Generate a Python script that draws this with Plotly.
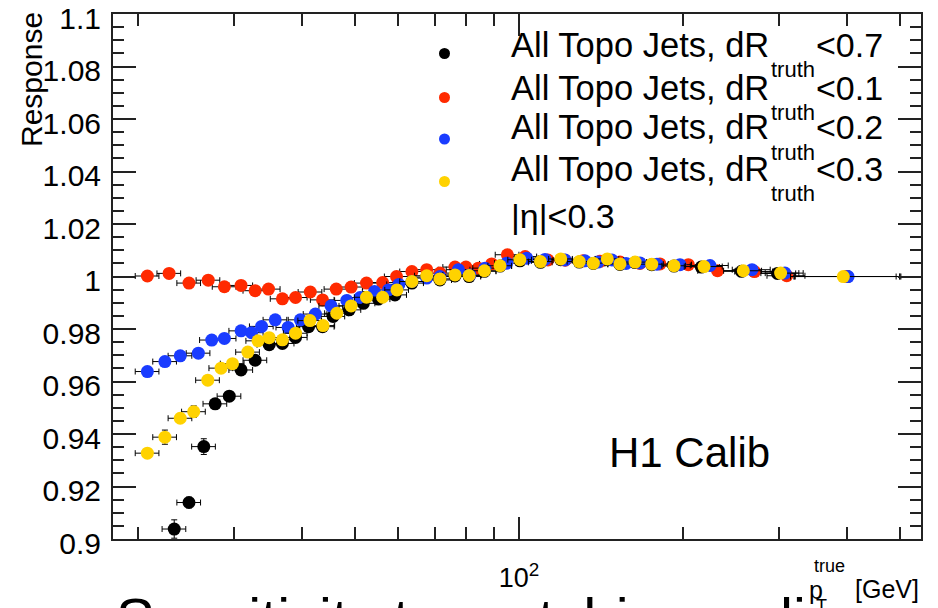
import plotly.graph_objects as go

# ---------------- data ----------------
black_x = [23.3, 24.8, 26.4, 27.7, 29.4, 30.9, 32.8, 34.8, 36.8, 38.9, 41.1, 43.6, 45.6, 48.8, 51.8,
           55.2, 59.2, 63.6, 67.7, 71.6, 76.3, 81.0, 86.4, 92.3, 100.4, 109.5, 119.3, 129.0, 136.9,
           145.2, 153.2, 163.3, 175.2, 192.5, 216, 256, 298, 400]
black_y = [0.9038, 0.9139, 0.9352, 0.9515, 0.9544, 0.9644, 0.9681, 0.9740, 0.9745, 0.9768, 0.9809,
           0.9809, 0.9848, 0.9873, 0.9898, 0.9914, 0.9930, 0.9975, 0.9998, 0.9987, 1.0002, 1.0000,
           1.0020, 1.0040, 1.0060, 1.0054, 1.0064, 1.0055, 1.0050, 1.0064, 1.0046, 1.0053, 1.0045,
           1.0040, 1.0036, 1.0020, 1.0012, 1.0000]
black_yerr = [0.0035, 0.0020, 0.0030, 0.0015, 0.0015, 0.0012]

red_x = [20.8, 22.8, 24.8, 26.9, 28.8, 30.9, 32.8, 34.7, 36.8, 38.9, 41.4, 43.6, 46.2, 49.2, 52.5,
         56.2, 59.6, 63.6, 67.7, 71.6, 76.3, 79.9, 84.2, 89.1, 95.2, 102.6, 113, 121.5, 131, 140.8,
         153.2, 166.7, 181.4, 204.5, 231.3, 270.4, 309.9, 399.4]
red_y = [1.0002, 1.0012, 0.9975, 0.9986, 0.9961, 0.9966, 0.9946, 0.9952, 0.9915, 0.9920, 0.9941,
         0.9911, 0.9952, 0.9960, 0.9975, 0.9977, 1.0000, 1.0019, 1.0026, 1.0013, 1.0036, 1.0036,
         1.0032, 1.0048, 1.0083, 1.0076, 1.0063, 1.0062, 1.0060, 1.0058, 1.0055, 1.0050, 1.0048,
         1.0045, 1.0022, 1.0019, 1.0003, 1.0000]
red_yerr = [0.0010]

blue_x = [20.8, 22.4, 23.9, 25.8, 27.3, 28.8, 30.9, 32.3, 33.7, 35.7, 37.7, 39.7, 42.3, 45.2, 48.3,
          51.1, 54.3, 57.6, 60.2, 63.6, 67.7, 71.6, 77.4, 81.3, 86.6, 94.9, 103.3, 111.6, 121.5,
          132.1, 139.6, 148.1, 157.2, 166.7, 179.1, 197.4, 224.1, 267.6, 307.6, 401.6]
blue_y = [0.9638, 0.9676, 0.9698, 0.9708, 0.9758, 0.9764, 0.9793, 0.9786, 0.9810, 0.9835, 0.9806,
          0.9835, 0.9857, 0.9888, 0.9909, 0.9920, 0.9943, 0.9949, 0.9970, 0.9981, 0.9994, 1.0000,
          1.0026, 1.0006, 1.0032, 1.0051, 1.0070, 1.0065, 1.0063, 1.0060, 1.0055, 1.0063, 1.0050,
          1.0052, 1.0047, 1.0045, 1.0042, 1.0026, 1.0013, 1.0000]
blue_yerr = [0.0010]

yellow_x = [20.8, 22.4, 23.9, 25.3, 26.85, 28.4, 29.8, 31.8, 33.2, 34.8, 36.8, 38.9, 41.35, 43.7,
            46.3, 49.2, 52.5, 56.2, 59.7, 63.6, 67.7, 71.6, 76.3, 81.0, 86.4, 92.3, 100.4, 109.5,
            119.3, 129.0, 136.9, 145.2, 153.2, 163.3, 175.2, 192.5, 218.5, 258, 302, 393.6]
yellow_y = [0.9327, 0.9388, 0.9460, 0.9485, 0.9605, 0.9651, 0.9668, 0.9712, 0.9755, 0.9767, 0.9759,
            0.9784, 0.9832, 0.9813, 0.9860, 0.9888, 0.9921, 0.9921, 0.9949, 0.9981, 1.0003, 0.9991,
            1.0006, 1.0004, 1.0022, 1.0041, 1.0064, 1.0057, 1.0067, 1.0057, 1.0051, 1.0067, 1.0048,
            1.0055, 1.0047, 1.0041, 1.0038, 1.0022, 1.0013, 1.0000]
yellow_yerr = [0.0015, 0.0027, 0.0015, 0.0022, 0.0015]

series_names = ["All Topo Jets, dR", "All Topo Jets, dR", "All Topo Jets, dR", "All Topo Jets, dR"]
series_cuts = ["<0.7", "<0.1", "<0.2", "<0.3"]
series_colors = ["#000000", "#ff2a00", "#1a3cff", "#ffd200"]

y_ticks = [0.9, 0.92, 0.94, 0.96, 0.98, 1.0, 1.02, 1.04, 1.06, 1.08, 1.1]
y_ticktext = ["0.9", "0.92", "0.94", "0.96", "0.98", "1", "1.02", "1.04", "1.06", "1.08", "1.1"]
x_major = [100]
x_major_text = ["10<sup>2</sup>"]
x_minor = [20, 30, 40, 50, 60, 70, 80, 90, 200, 300, 400, 500]

# ---------------- layout geometry ----------------
W, H = 938, 608
L, R, T, B = 113, 17, 14, 69
PW, PH = W - L - R, H - T - B


def xp(px):
    return (px - L) / PW


def yp(py):
    return (H - B - py) / PH


FONT = "Liberation Sans, Arial, Helvetica, sans-serif"
AX = "#222222"

fig = go.Figure()

all_series = [
    (black_x, black_y, black_yerr),
    (red_x, red_y, red_yerr),
    (blue_x, blue_y, blue_yerr),
    (yellow_x, yellow_y, yellow_yerr),
]

for (xs, ys, ye), col in zip(all_series, series_colors):
    n = len(xs)
    xplus, xminus = [], []
    for i, x in enumerate(xs):
        if i == n - 1:
            xplus.append(0.25 * x)
            xminus.append(0.20 * x)
        elif x >= 200:
            xplus.append(0.08 * x)
            xminus.append(0.08 * x)
        else:
            xplus.append(0.05 * x)
            xminus.append(0.05 * x)
    yerr = list(ye) + [0.001] * (n - len(ye))
    fig.add_trace(go.Scatter(
        x=xs, y=ys, mode="markers",
        marker=dict(size=13, color=col, line=dict(width=0)),
        error_x=dict(type="data", symmetric=False, array=xplus, arrayminus=xminus,
                     color="black", thickness=1, width=3),
        error_y=dict(type="data", array=yerr, color="black", thickness=1, width=3),
        showlegend=False, hoverinfo="x+y",
    ))

fig.update_layout(
    width=W, height=H,
    margin=dict(l=L, r=R, t=T, b=B, pad=0, autoexpand=False),
    paper_bgcolor="white", plot_bgcolor="white",
    font=dict(family=FONT, color="black"),
    xaxis=dict(
        type="log", range=[1.2550, 2.7376], automargin=False,
        showgrid=False, zeroline=False,
        showline=True, linecolor=AX, linewidth=2, mirror="allticks",
        ticks="inside", ticklen=22, tickwidth=1.5, tickcolor=AX,
        tickmode="array", tickvals=x_major, ticktext=x_major_text,
        tickfont=dict(size=27, family=FONT, color="black"),
        ticklabelstandoff=14, ticklabeloverflow="allow",
        minor=dict(tickmode="array", tickvals=x_minor, ticks="inside",
                   ticklen=12, tickwidth=1.5, tickcolor=AX, showgrid=False),
    ),
    yaxis=dict(
        range=[0.9, 1.10002], automargin=False,
        showgrid=False, zeroline=False,
        showline=True, linecolor=AX, linewidth=2, mirror="allticks",
        ticks="inside", ticklen=23, tickwidth=1.5, tickcolor=AX,
        tickmode="array", tickvals=y_ticks, ticktext=y_ticktext,
        tickfont=dict(size=30, family=FONT, color="black"),
        ticklabelstandoff=4, ticklabelshift=4, ticklabeloverflow="allow",
        minor=dict(dtick=0.005, tick0=0.9, ticks="inside", ticklen=11,
                   tickwidth=1.5, tickcolor=AX, showgrid=False),
    ),
)

ann = []
shapes = []

# legend rows
row_mid = [44.6, 87.5, 127.5, 168.5]
marker_y = [53.5, 97.5, 139.0, 181.5]
for name, cut, col, ym, my in zip(series_names, series_cuts, series_colors, row_mid, marker_y):
    ann.append(dict(x=xp(509), y=yp(ym), xref="paper", yref="paper", xanchor="left",
                    yanchor="middle", text=name, showarrow=False,
                    font=dict(size=34.5, family=FONT, color="black")))
    ann.append(dict(x=xp(769), y=yp(ym + 25), xref="paper", yref="paper", xanchor="left",
                    yanchor="middle", text="truth", showarrow=False,
                    font=dict(size=22, family=FONT, color="black")))
    ann.append(dict(x=xp(814), y=yp(ym), xref="paper", yref="paper", xanchor="left",
                    yanchor="middle", text=cut.replace("<", "&lt;"), showarrow=False,
                    font=dict(size=34, family=FONT, color="black")))
    r = 5.5
    shapes.append(dict(type="circle", xref="paper", yref="paper",
                       x0=xp(444.5 - r), x1=xp(444.5 + r), y0=yp(my + r), y1=yp(my - r),
                       fillcolor=col, line=dict(width=0)))

ann.append(dict(x=xp(509), y=yp(216), xref="paper", yref="paper", xanchor="left",
                yanchor="middle", text="|η|&lt;0.3", showarrow=False,
                font=dict(size=34, family=FONT, color="black")))

ann.append(dict(x=xp(689), y=yp(452), xref="paper", yref="paper", xanchor="center",
                yanchor="middle", text="H1 Calib", showarrow=False,
                font=dict(size=42, family=FONT, color="black")))

# y-axis title
ann.append(dict(x=xp(32), y=yp(80), xref="paper", yref="paper", xanchor="center",
                yanchor="middle", text="Response", textangle=-90, showarrow=False,
                font=dict(size=30, family=FONT, color="black")))

# slide title (cut by the bottom of the picture)
ann.append(dict(x=xp(114), y=yp(584), xref="paper", yref="paper", xanchor="left",
                yanchor="top", text="Sensitivity to matching radius", showarrow=False,
                font=dict(size=58, family=FONT, color="black")))

# x-axis title p_T^true [GeV]
ann.append(dict(x=xp(807), y=yp(590), xref="paper", yref="paper", xanchor="left",
                yanchor="middle", text="p", showarrow=False,
                font=dict(size=25, family=FONT, color="black")))
ann.append(dict(x=xp(812), y=yp(566), xref="paper", yref="paper", xanchor="left",
                yanchor="middle", text="true", showarrow=False,
                font=dict(size=18, family=FONT, color="black")))
ann.append(dict(x=xp(814), y=yp(606), xref="paper", yref="paper", xanchor="left",
                yanchor="middle", text="T", showarrow=False,
                font=dict(size=18, family=FONT, color="black")))
ann.append(dict(x=xp(921), y=yp(589), xref="paper", yref="paper", xanchor="right",
                yanchor="middle", text="[GeV]", showarrow=False,
                font=dict(size=25, family=FONT, color="black")))

fig.update_layout(annotations=ann, shapes=shapes)

fig.write_html("out.html")
